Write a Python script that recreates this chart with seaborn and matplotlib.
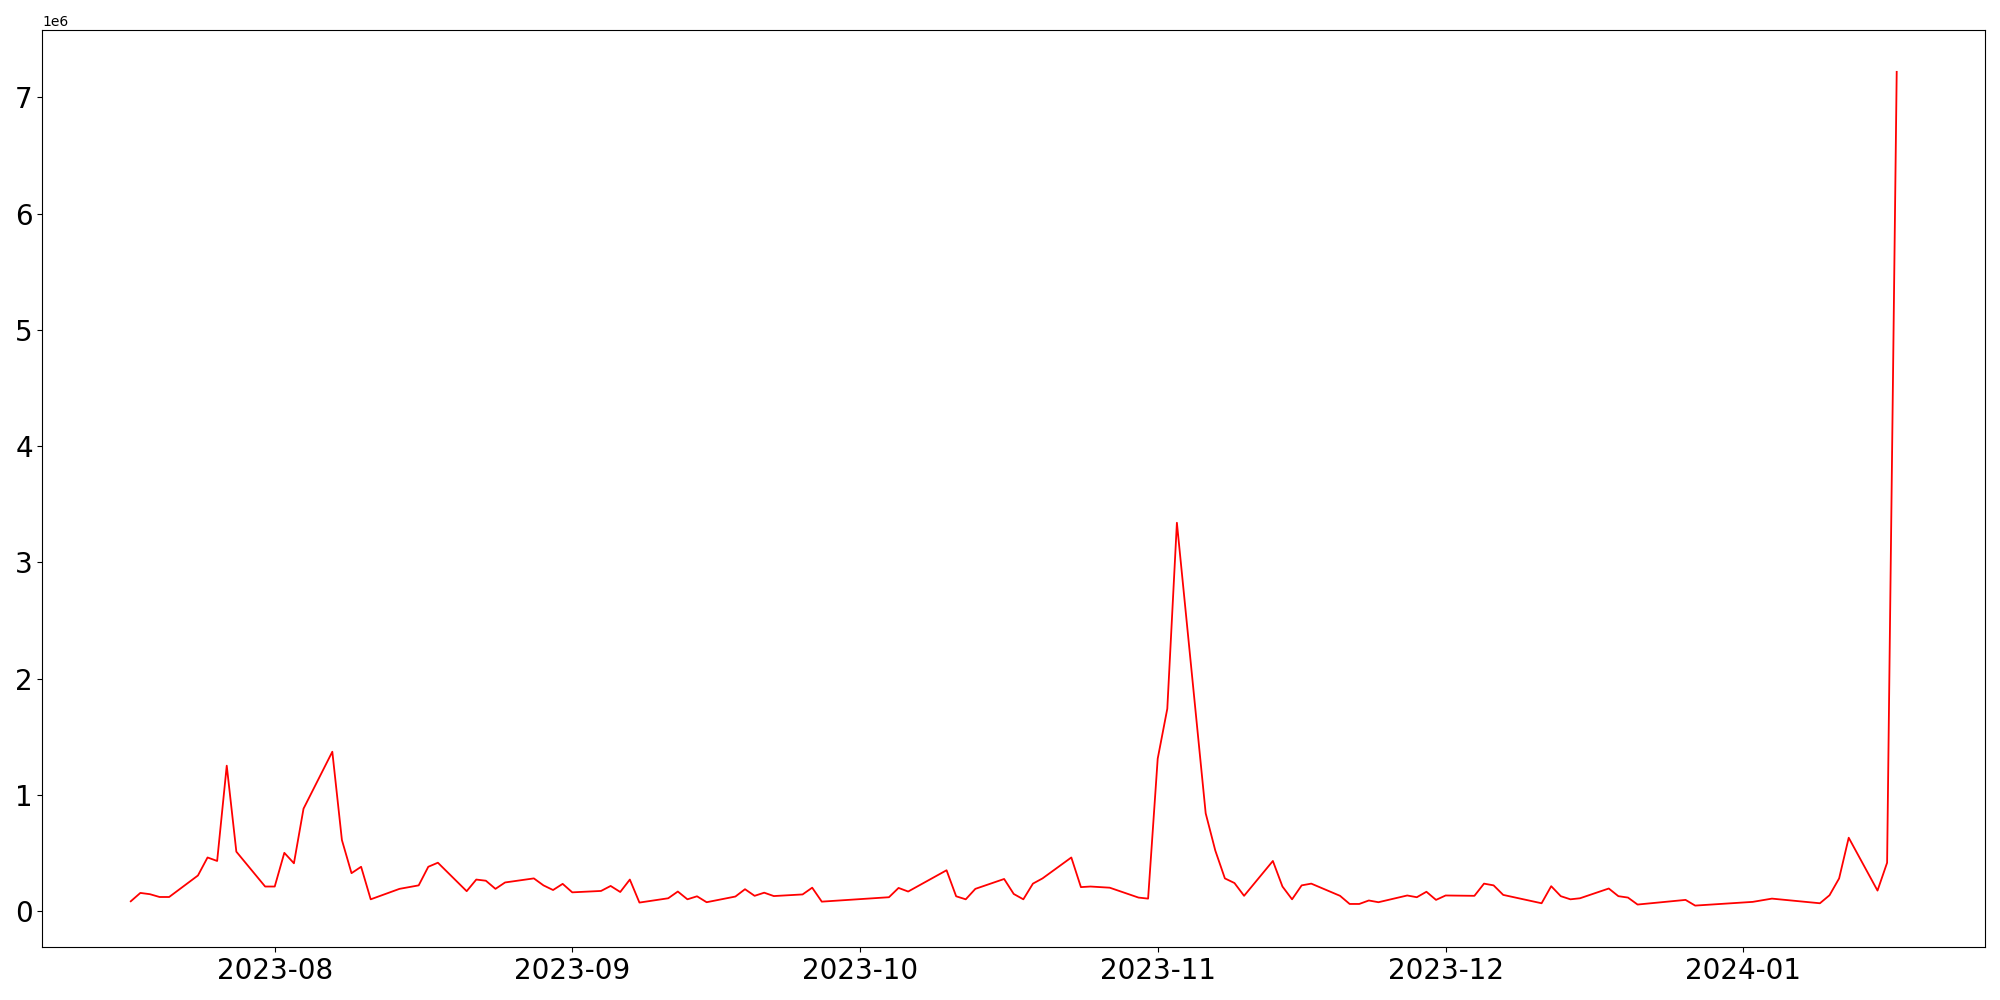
import pandas as pd
import matplotlib
matplotlib.use("Agg")
import matplotlib.pyplot as plt
import seaborn as sns

# -----------------------------
# Data
# -----------------------------
dates = [
    "2023-07-17", "2023-07-18", "2023-07-19", "2023-07-20", "2023-07-21",
    "2023-07-24", "2023-07-25", "2023-07-26", "2023-07-27", "2023-07-28",
    "2023-07-31", "2023-08-01", "2023-08-02", "2023-08-03", "2023-08-04",
    "2023-08-07", "2023-08-08", "2023-08-09", "2023-08-10", "2023-08-11",
    "2023-08-14", "2023-08-16", "2023-08-17", "2023-08-18",
    "2023-08-21", "2023-08-22", "2023-08-23", "2023-08-24", "2023-08-25",
    "2023-08-28", "2023-08-29", "2023-08-30", "2023-08-31", "2023-09-01",
    "2023-09-04", "2023-09-05", "2023-09-06", "2023-09-07", "2023-09-08",
    "2023-09-11", "2023-09-12", "2023-09-13", "2023-09-14", "2023-09-15",
    "2023-09-18", "2023-09-19", "2023-09-20", "2023-09-21", "2023-09-22",
    "2023-09-25", "2023-09-26", "2023-09-27",
    "2023-10-04", "2023-10-05", "2023-10-06",
    "2023-10-10", "2023-10-11", "2023-10-12", "2023-10-13",
    "2023-10-16", "2023-10-17", "2023-10-18", "2023-10-19", "2023-10-20",
    "2023-10-23", "2023-10-24", "2023-10-25", "2023-10-27",
    "2023-10-30", "2023-10-31", "2023-11-01", "2023-11-02", "2023-11-03",
    "2023-11-06", "2023-11-07", "2023-11-08", "2023-11-09", "2023-11-10",
    "2023-11-13", "2023-11-14", "2023-11-15", "2023-11-16", "2023-11-17",
    "2023-11-20", "2023-11-21", "2023-11-22", "2023-11-23", "2023-11-24",
    "2023-11-27", "2023-11-28", "2023-11-29", "2023-11-30", "2023-12-01",
    "2023-12-04", "2023-12-05", "2023-12-06", "2023-12-07",
    "2023-12-11", "2023-12-12", "2023-12-13", "2023-12-14", "2023-12-15",
    "2023-12-18", "2023-12-19", "2023-12-20", "2023-12-21",
    "2023-12-26", "2023-12-27",
    "2024-01-02", "2024-01-04",
    "2024-01-09", "2024-01-10", "2024-01-11", "2024-01-12",
    "2024-01-15", "2024-01-16", "2024-01-17",
]

values_m = [
    0.083, 0.155, 0.144, 0.12, 0.12,
    0.305, 0.46, 0.43, 1.25, 0.51,
    0.21, 0.21, 0.50, 0.41, 0.88,
    1.37, 0.61, 0.325, 0.38, 0.10,
    0.19, 0.22, 0.38, 0.415,
    0.17, 0.27, 0.26, 0.19, 0.245,
    0.28, 0.22, 0.18, 0.233, 0.16,
    0.172, 0.215, 0.163, 0.27, 0.072,
    0.109, 0.167, 0.10, 0.126, 0.075,
    0.124, 0.187, 0.13, 0.157, 0.128,
    0.142, 0.20, 0.08,
    0.118, 0.198, 0.167,
    0.35, 0.126, 0.10, 0.19,
    0.275, 0.146, 0.10, 0.235, 0.28,
    0.46, 0.205, 0.21, 0.20,
    0.115, 0.106, 1.31, 1.74, 3.34,
    0.84, 0.52, 0.28, 0.24, 0.13,
    0.43, 0.21, 0.10, 0.22, 0.235,
    0.13, 0.06, 0.06, 0.09, 0.075,
    0.133, 0.118, 0.165, 0.095, 0.133,
    0.13, 0.235, 0.22, 0.138,
    0.066, 0.213, 0.127, 0.10, 0.109,
    0.193, 0.127, 0.115, 0.055,
    0.095, 0.046,
    0.078, 0.106,
    0.066, 0.135, 0.28, 0.63,
    0.175, 0.415, 7.22,
]

df = pd.DataFrame({
    "date": pd.to_datetime(dates),
    "value": [v * 1e6 for v in values_m],
})

# -----------------------------
# Plot
# -----------------------------
fig, ax = plt.subplots(figsize=(20, 10), dpi=100)
sns.lineplot(data=df, x="date", y="value", color="red", linewidth=1.3, ax=ax)
ax.set_xlabel("")
ax.set_ylabel("")
ax.tick_params(axis="both", labelsize=20)

plt.tight_layout()
plt.savefig("out.png")
